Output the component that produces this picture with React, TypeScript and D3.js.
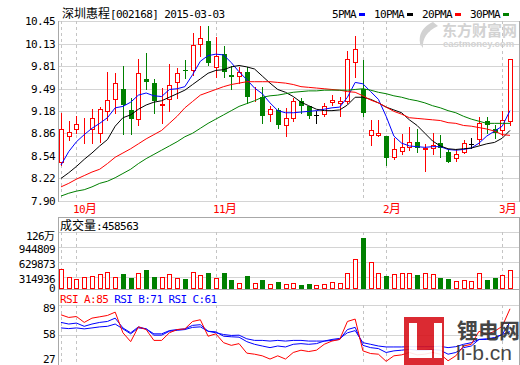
import React from 'react';
import * as d3 from 'd3';

// daily K-line, 2014-09-29 .. 2015-03-03 (59 sessions)
const opens = [8.45, 8.82, 8.92, 8.90, 8.92, 8.86, 9.17, 9.34, 9.49, 9.19, 9.06, 9.63, 9.57, 9.26, 9.34, 9.58, 9.76, 9.75, 10.12, 10.17, 9.80, 9.98, 9.69, 9.67, 9.73, 9.37, 9.37, 9.13, 9.19, 8.97, 9.08, 9.31, 9.25, 9.12, 9.13, 9.30, 9.29, 9.32, 9.87, 9.48, 8.83, 8.84, 8.82, 8.52, 8.61, 8.67, 8.73, 8.63, 8.65, 8.72, 8.60, 8.51, 8.60, 8.71, 8.78, 9.03, 8.92, 8.91, 9.04];
const highs = [9.15, 9.04, 9.11, 9.08, 9.21, 9.23, 9.73, 9.72, 9.81, 9.36, 9.91, 10.00, 9.63, 9.50, 9.84, 9.78, 9.90, 10.28, 10.38, 10.38, 10.22, 10.10, 9.81, 9.80, 9.80, 9.52, 9.52, 9.25, 9.22, 9.22, 9.36, 9.36, 9.25, 9.17, 9.29, 9.40, 9.37, 10.02, 10.24, 9.90, 9.05, 9.05, 8.82, 8.79, 8.85, 8.95, 8.92, 8.71, 8.86, 8.83, 8.62, 8.64, 8.76, 8.79, 9.09, 9.09, 8.98, 9.17, 9.91];
const lows = [8.41, 8.77, 8.87, 8.72, 8.72, 8.73, 9.05, 9.15, 8.85, 8.85, 8.97, 9.48, 9.15, 9.00, 9.17, 9.36, 9.64, 9.69, 9.96, 9.83, 9.66, 9.65, 9.49, 9.57, 9.29, 9.31, 9.01, 9.04, 8.93, 8.82, 9.03, 9.14, 9.07, 9.01, 9.10, 9.26, 9.10, 9.29, 9.65, 9.11, 8.69, 8.82, 8.41, 8.50, 8.56, 8.62, 8.59, 8.32, 8.56, 8.53, 8.45, 8.46, 8.58, 8.65, 8.71, 8.86, 8.79, 8.84, 8.98];
const closes = [8.92, 8.88, 8.99, 8.91, 9.08, 9.21, 9.33, 9.57, 9.26, 9.06, 9.71, 9.58, 9.31, 9.27, 9.54, 9.72, 9.75, 10.11, 10.21, 9.86, 9.96, 9.73, 9.65, 9.73, 9.37, 9.38, 9.11, 9.20, 8.97, 9.08, 9.31, 9.24, 9.11, 9.12, 9.25, 9.33, 9.32, 9.91, 10.06, 9.14, 8.91, 8.86, 8.51, 8.64, 8.67, 8.73, 8.65, 8.65, 8.70, 8.65, 8.45, 8.57, 8.72, 8.71, 9.01, 8.98, 8.87, 9.05, 9.91];
const volumes = [476600, 308600, 266600, 308600, 329600, 371600, 413600, 314900, 371600, 293900, 392600, 461900, 314900, 314900, 371600, 293900, 272900, 413600, 350600, 398900, 287600, 398900, 245600, 182700, 335900, 182700, 251900, 161700, 210000, 161700, 182700, 147000, 168000, 147000, 168000, 203700, 182700, 392600, 686600, 1127500, 636200, 392600, 335900, 371600, 392600, 392600, 356900, 392600, 371600, 300200, 272900, 224700, 245600, 224700, 392600, 251900, 300200, 350600, 458563];

const ma5 = [8.41, 8.60, 8.74, 8.84, 8.93, 9.00, 9.08, 9.22, 9.24, 9.30, 9.40, 9.43, 9.39, 9.38, 9.48, 9.49, 9.52, 9.69, 9.88, 9.96, 9.98, 9.97, 9.86, 9.73, 9.62, 9.50, 9.42, 9.29, 9.18, 9.15, 9.15, 9.16, 9.17, 9.18, 9.20, 9.22, 9.23, 9.37, 9.58, 9.56, 9.45, 9.34, 9.10, 8.82, 8.72, 8.68, 8.67, 8.66, 8.67, 8.67, 8.63, 8.62, 8.63, 8.65, 8.72, 8.82, 8.89, 8.96, 9.18];
const ma10 = [8.22, 8.30, 8.39, 8.49, 8.58, 8.68, 8.77, 8.96, 9.08, 9.12, 9.20, 9.26, 9.30, 9.32, 9.37, 9.42, 9.47, 9.55, 9.63, 9.71, 9.75, 9.76, 9.80, 9.82, 9.80, 9.77, 9.67, 9.57, 9.48, 9.44, 9.38, 9.30, 9.25, 9.20, 9.18, 9.18, 9.19, 9.26, 9.37, 9.37, 9.34, 9.29, 9.23, 9.19, 9.15, 9.05, 8.97, 8.86, 8.75, 8.68, 8.64, 8.63, 8.64, 8.65, 8.68, 8.71, 8.73, 8.79, 8.90];
const ma20 = [8.10, 8.15, 8.21, 8.26, 8.31, 8.35, 8.43, 8.52, 8.58, 8.64, 8.71, 8.78, 8.84, 8.90, 9.00, 9.10, 9.22, 9.31, 9.40, 9.44, 9.48, 9.52, 9.55, 9.57, 9.59, 9.59, 9.59, 9.59, 9.58, 9.57, 9.55, 9.52, 9.51, 9.50, 9.49, 9.48, 9.47, 9.45, 9.44, 9.39, 9.33, 9.29, 9.23, 9.17, 9.13, 9.08, 9.07, 9.06, 9.05, 9.04, 9.01, 9.00, 8.97, 8.96, 8.94, 8.92, 8.89, 8.84, 8.83];
const ma30 = [7.97, 8.01, 8.04, 8.06, 8.10, 8.15, 8.18, 8.23, 8.29, 8.35, 8.43, 8.50, 8.56, 8.62, 8.68, 8.74, 8.81, 8.86, 8.93, 9.00, 9.06, 9.12, 9.18, 9.24, 9.28, 9.32, 9.37, 9.39, 9.40, 9.42, 9.44, 9.45, 9.46, 9.46, 9.47, 9.47, 9.47, 9.47, 9.48, 9.49, 9.47, 9.44, 9.42, 9.39, 9.37, 9.34, 9.32, 9.29, 9.25, 9.22, 9.18, 9.15, 9.10, 9.06, 9.03, 9.00, 9.00, 9.00, 9.00];

const rsiA = [78.7, 75.9, 76.9, 70.7, 75.2, 76.6, 78.0, 81.5, 59.8, 50.5, 66.0, 63.2, 51.8, 51.8, 59.8, 63.2, 63.9, 71.7, 73.5, 56.2, 58.7, 49.4, 46.6, 48.4, 38.4, 37.3, 35.6, 32.2, 35.6, 32.2, 39.1, 41.5, 40.1, 41.5, 47.7, 51.1, 52.8, 71.7, 74.2, 40.8, 38.0, 37.3, 29.8, 35.6, 36.6, 39.1, 36.6, 37.3, 39.1, 37.3, 30.4, 35.6, 45.9, 47.7, 61.4, 58.0, 61.4, 66.6, 85];
const rsiB = [70.7, 69.0, 70.0, 66.6, 69.0, 70.7, 71.7, 75.2, 64.9, 59.8, 66.0, 63.9, 58.7, 58.7, 62.1, 63.2, 63.9, 67.6, 68.3, 61.4, 60.8, 56.2, 55.6, 55.2, 50.5, 47.7, 45.9, 44.2, 45.9, 44.9, 47.7, 48.4, 47.7, 48.4, 51.1, 51.8, 52.8, 63.2, 65.5, 46.6, 44.2, 43.2, 39.1, 40.8, 41.5, 42.5, 41.5, 41.5, 42.2, 41.5, 37.3, 39.1, 44.2, 45.9, 52.8, 52.8, 54.6, 58.0, 71];
const rsiC = [64.9, 64.2, 64.9, 63.9, 64.9, 66.0, 66.6, 69.0, 63.9, 58.7, 64.9, 63.9, 57.3, 57.3, 61.4, 62.4, 63.2, 65.5, 66.0, 61.4, 59.8, 58.0, 57.0, 57.3, 53.5, 51.8, 51.8, 51.1, 51.8, 51.1, 51.8, 51.8, 51.1, 51.1, 51.1, 52.8, 53.9, 59.8, 62.1, 49.4, 47.7, 45.9, 44.9, 44.9, 44.9, 45.2, 45.2, 45.2, 45.2, 45.6, 44.2, 45.2, 47.7, 49.4, 52.8, 53.5, 54.6, 58.0, 61];

const priceTicks = [7.90, 8.22, 8.54, 8.86, 9.18, 9.49, 9.81, 10.13, 10.45];
const priceTickLabels = ['7.90', '8.22', '8.54', '8.86', '9.18', '9.49', '9.81', '10.13', '10.45'];
const volTicks = [0, 314936, 629873, 944809, 1259745];
const volTickLabels = ['0', '314936', '629873', '944809', '126万'];
const rsiTicks = [27, 58, 89];
const monthIdx = [2, 20, 42, 57];
const monthLabels = ['10月', '11月', '2月', '3月'];
const dividerIdx = [0, 2, 20, 39, 42, 57];
const maNames = ['5PMA', '10PMA', '20PMA', '30PMA'];

const RED = '#ff0000';
const GREEN = '#008000';
const BLUE = '#0000ff';
const GRID = '#d4d4d4';
const BORDER = '#a8a8a8';
const DASH = '#c4c4c4';
const MONO = "'DejaVu Sans Mono', monospace";
const CJK = "'Noto Sans CJK SC', sans-serif";

const L = 58;
const R = 519;
const main = { top: 21, bottom: 201 };
const vol = { box: 217, top: 232, zero: 292, bottom: 289 };
const rsi = { top: 305, bottom: 364 };

const x = d3.scaleLinear().domain([0, closes.length - 1]).range([61, 510]);
const yP = d3.scaleLinear().domain([7.9, 10.45]).range([main.bottom, main.top]);
const yV = d3.scaleLinear().domain([0, 1259745]).range([vol.zero, vol.top]);
const yR = d3.scaleLinear().domain([27, 89]).range([rsi.bottom, rsi.top]);

const px = (i: number) => Math.round(x(i));
const hy = (v: number) => Math.round(v) + 0.5;

const monoText = { fontFamily: MONO, fontSize: 11, letterSpacing: -0.6 } as const;

const App: React.FC = () => {
  const line = (scale: d3.ScaleLinear<number, number>) =>
    d3.line<number>().x((_, i) => x(i)).y(d => scale(d));
  const maSeries = [ma5, ma10, ma20, ma30];
  const maColors = [BLUE, '#000000', RED, GREEN];

  const yLabel = (y: number, lo: number, hi: number) => Math.min(Math.max(y, lo), hi);

  return (
    <svg width={520} height={365} style={{ position: 'absolute', left: 0, top: 0, background: '#fff' }}>
      <rect width={520} height={365} fill="#fff" />

      {/* title + legend */}
      <text x={62} y={18} fill="#000">
        <tspan fontFamily={CJK} fontSize={12}>深圳惠程</tspan>
        <tspan {...monoText}>[002168] 2015-03-03</tspan>
      </text>
      {maNames.map((n, k) => (
        <g key={n}>
          <text x={[332, 374, 422, 470][k]} y={18} {...monoText} fill="#000">{n}</text>
          <rect x={[359, 407, 455, 503][k]} y={13} width={6} height={3} fill={maColors[k]} />
        </g>
      ))}

      {/* eastmoney watermark */}
      <g fill="#d2d2d2">
        <path d="M433,22 C421,27 416,39 423,48 C422,39 427,31 438,26 Z" />
        <path d="M426,30 C419,35 419,42 421,46 C421,40 424,35 430,31 Z" />
        <text x={442} y={36} fontFamily={CJK} fontSize={15} fontWeight="bold">东方财富网</text>
        <text x={443} y={47} fontFamily="'Liberation Sans', sans-serif" fontSize={9.5} fontWeight="bold">eastmoney.com</text>
      </g>

      {/* main panel grid */}
      {priceTicks.map(t => (
        <line key={t} x1={L} x2={R} y1={hy(yP(t))} y2={hy(yP(t))} stroke={GRID} />
      ))}
      {dividerIdx.map(i => (
        <line key={i} x1={px(i) + 0.5} x2={px(i) + 0.5} y1={main.top} y2={main.bottom}
          stroke={DASH} strokeDasharray="3,3" />
      ))}
      <line x1={L + 0.5} x2={L + 0.5} y1={main.top} y2={main.bottom + 1} stroke={BORDER} />
      <line x1={R + 0.5} x2={R + 0.5} y1={main.top} y2={main.bottom + 1} stroke={BORDER} />
      {priceTicks.map((t, k) => (
        <text key={t} x={55} y={yP(t)} dy="0.36em" textAnchor="end" {...monoText} fill="#000">
          {priceTickLabels[k]}
        </text>
      ))}

      {/* candles */}
      {closes.map((c, i) => {
        const o = opens[i];
        const cx = px(i);
        const up = c > o;
        const color = c === o ? '#000' : up ? RED : GREEN;
        const yT = Math.round(yP(Math.max(o, c)));
        const yB = Math.round(yP(Math.min(o, c)));
        return (
          <g key={i} shapeRendering="crispEdges">
            <line x1={cx + 0.5} x2={cx + 0.5} y1={Math.round(yP(highs[i]))} y2={Math.round(yP(lows[i])) + 1} stroke={color} />
            {up ? (
              <rect x={cx - 1.5} y={yT + 0.5} width={4} height={Math.max(yB - yT, 0)} fill="#fff" stroke={color} />
            ) : (
              <rect x={cx - 2} y={yT} width={5} height={Math.max(yB - yT, 1)} fill={color} />
            )}
          </g>
        );
      })}

      {/* moving averages */}
      {maSeries.map((s, k) => (
        <path key={k} d={line(yP)(s) || ''} fill="none" stroke={maColors[k]} strokeWidth={1} />
      ))}

      {/* month labels */}
      {monthIdx.map((i, k) => {
        const lab = monthLabels[k];
        return (
          <text key={lab} x={px(i) - 3} y={213} fill={RED}>
            <tspan {...monoText}>{lab.slice(0, -1)}</tspan>
            <tspan fontFamily={CJK} fontSize={12}>月</tspan>
          </text>
        );
      })}

      {/* volume panel */}
      <line x1={L} x2={R + 1} y1={vol.box + 0.5} y2={vol.box + 0.5} stroke={BORDER} />
      {volTicks.slice(1).map(t => (
        <line key={t} x1={L} x2={R} y1={hy(yV(t))} y2={hy(yV(t))} stroke={GRID} />
      ))}
      {dividerIdx.map(i => (
        <line key={i} x1={px(i) + 0.5} x2={px(i) + 0.5} y1={vol.top} y2={vol.bottom}
          stroke={DASH} strokeDasharray="3,3" />
      ))}
      <text x={60} y={230} fill="#000">
        <tspan fontFamily={CJK} fontSize={12}>成交量</tspan>
        <tspan {...monoText}>:{volumes[volumes.length - 1]}</tspan>
      </text>
      {volTicks.map((t, k) => (
        <text key={t} x={55} y={yLabel(yV(t), vol.top + 2, vol.bottom - 2.5)} dy="0.36em" textAnchor="end" fill="#000">
          {volTickLabels[k].endsWith('万') ? (
            <>
              <tspan {...monoText}>{volTickLabels[k].slice(0, -1)}</tspan>
              <tspan fontFamily={CJK} fontSize={11}>万</tspan>
            </>
          ) : (
            <tspan {...monoText}>{volTickLabels[k]}</tspan>
          )}
        </text>
      ))}
      {volumes.map((v, i) => {
        const cx = px(i);
        const up = closes[i] >= opens[i];
        const top = Math.round(yV(v));
        return up ? (
          <rect key={i} x={cx - 1.5} y={top + 0.5} width={4} height={vol.bottom - top - 1}
            fill="#fff" stroke={RED} shapeRendering="crispEdges" />
        ) : (
          <rect key={i} x={cx - 2} y={top} width={5} height={vol.bottom - top}
            fill={GREEN} shapeRendering="crispEdges" />
        );
      })}
      <line x1={L} x2={R + 1} y1={vol.bottom + 0.5} y2={vol.bottom + 0.5} stroke={BORDER} />

      {/* RSI panel */}
      <text x={60} y={303} {...monoText}>
        <tspan fill={RED}>RSI_A:{rsiA[rsiA.length - 1]}</tspan>
        <tspan fill={BLUE}> RSI_B:{rsiB[rsiB.length - 1]} RSI_C:{rsiC[rsiC.length - 1]}</tspan>
      </text>
      {rsiTicks.slice(1).map(t => (
        <line key={t} x1={L} x2={R} y1={hy(yR(t))} y2={hy(yR(t))} stroke={GRID} />
      ))}
      {dividerIdx.map(i => (
        <line key={i} x1={px(i) + 0.5} x2={px(i) + 0.5} y1={rsi.top} y2={rsi.bottom}
          stroke={DASH} strokeDasharray="3,3" />
      ))}
      {rsiTicks.map(t => (
        <text key={t} x={55} y={yLabel(yR(t), rsi.top + 3, rsi.bottom - 5)} dy="0.36em" textAnchor="end"
          {...monoText} fill="#000">{t}</text>
      ))}
      <path d={line(yR)(rsiC) || ''} fill="none" stroke={BLUE} />
      <path d={line(yR)(rsiB) || ''} fill="none" stroke={BLUE} />
      <path d={line(yR)(rsiA) || ''} fill="none" stroke={RED} />

      <line x1={L + 0.5} x2={L + 0.5} y1={vol.box} y2={365} stroke={BORDER} />
      <line x1={R + 0.5} x2={R + 0.5} y1={vol.box} y2={365} stroke={BORDER} />

      {/* li-b.cn watermark */}
      <g opacity={0.9}>
        <rect x={404} y={317} width={40} height={48} fill="#d8141c" />
        <rect x={409} y={323} width={8} height={35} fill="#fff" />
        <rect x={409} y={350} width={23} height={8} fill="#fff" />
        <rect x={434} y={323} width={8} height={35} fill="#fff" />
        <text x={457} y={338} fontFamily={CJK} fontSize={21} fontWeight="bold" fill="#333">锂电网</text>
        <text x={456} y={360} fontFamily="'Liberation Sans', sans-serif" fontSize={21} fill="#333">li-b.cn</text>
      </g>
    </svg>
  );
};

export default App;
